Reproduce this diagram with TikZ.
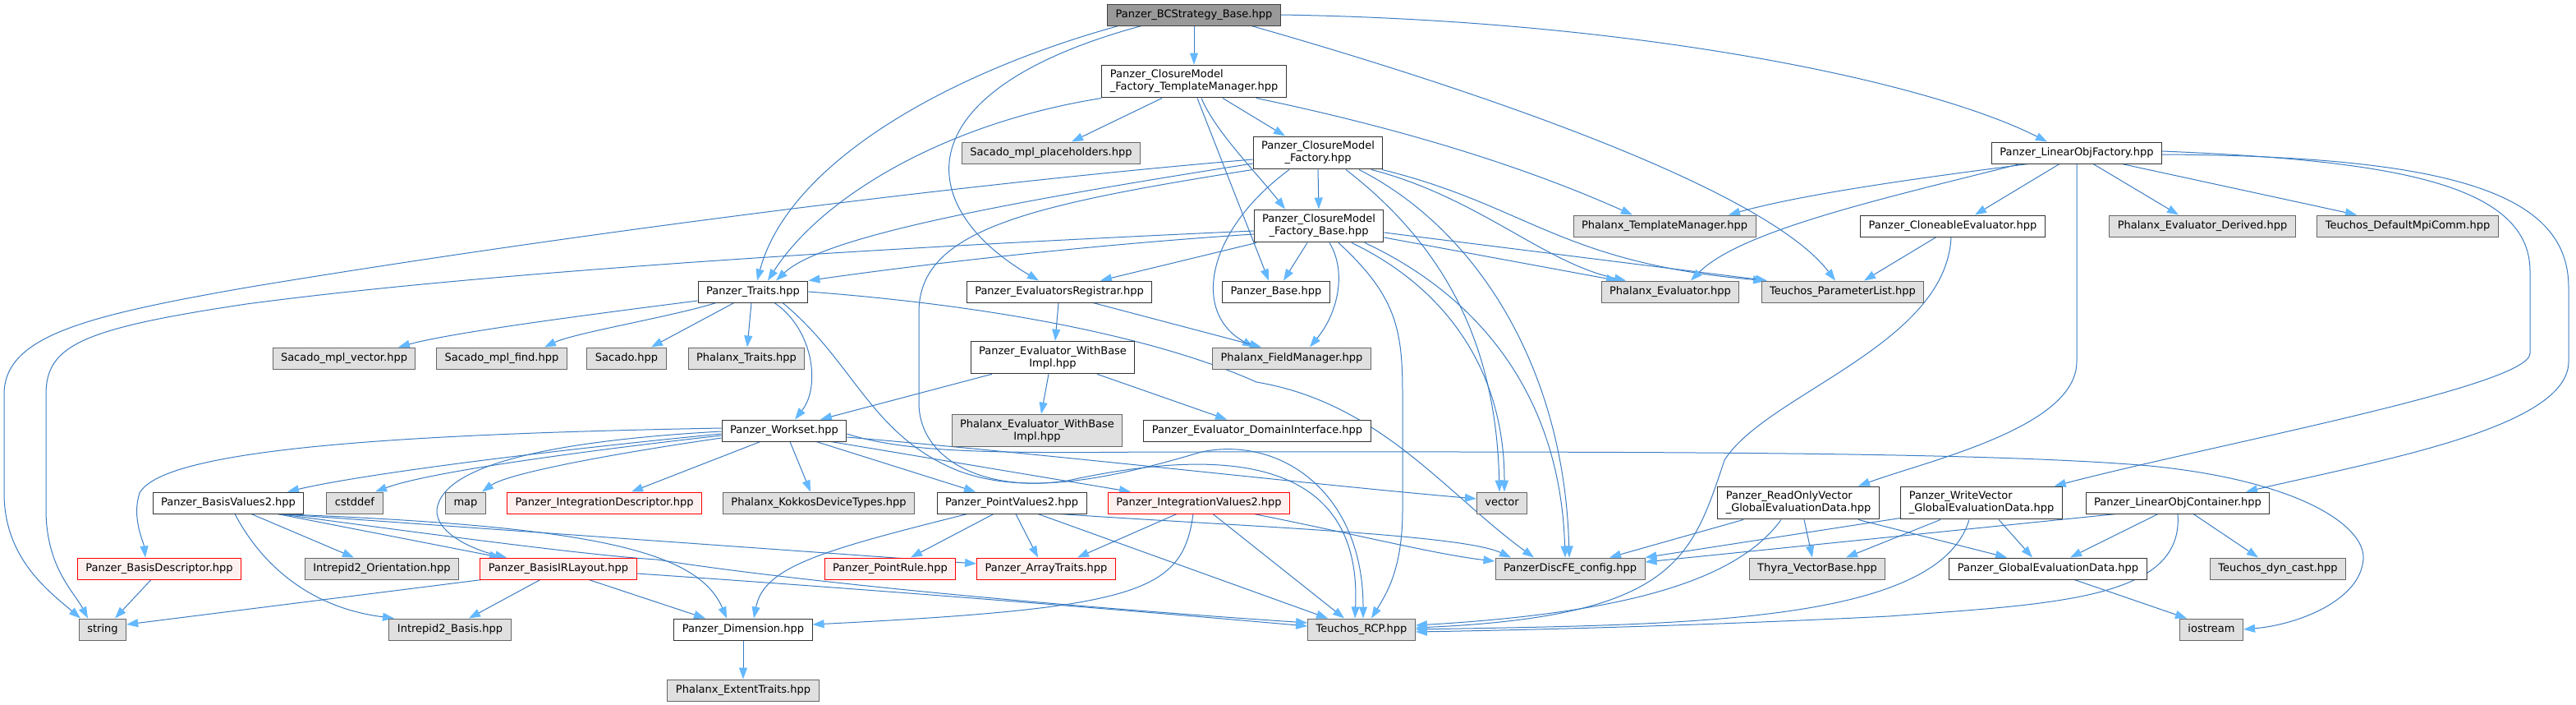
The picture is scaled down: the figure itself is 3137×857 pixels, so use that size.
\documentclass[tikz,border=0pt]{standalone}
\usepackage{fontspec}
\setmainfont{DejaVu Sans}
\usetikzlibrary{arrows.meta}
\definecolor{edgeblue}{RGB}{60,125,195}
\definecolor{arrowfill}{RGB}{99,184,255}
\definecolor{nodeborder}{RGB}{51,51,51}
\definecolor{extfill}{RGB}{224,224,224}
\definecolor{extborder}{RGB}{102,102,102}
\definecolor{truncfill}{RGB}{255,240,240}
\definecolor{rootfill}{RGB}{153,153,153}
\definecolor{rootborder}{RGB}{64,64,64}
\newcommand{\nodefont}{\fontsize{13pt}{15pt}\selectfont}
\pgfdeclarelayer{edgelayer}
\pgfsetlayers{edgelayer,main}
\tikzset{
  nd/.style={draw=nodeborder, fill=white, line width=1pt, font=\nodefont, inner xsep=10pt, inner ysep=6pt, minimum height=26pt, text=black},
  one/.style={text height=10pt, text depth=3.2pt},
  wn/.style={nd, one},
  gn/.style={nd, one, draw=extborder, fill=extfill},
  rn/.style={nd, one, draw=red, fill=truncfill},
  rootn/.style={nd, one, draw=rootborder, fill=rootfill},
  wtwo/.style={nd},
  gtwo/.style={nd, draw=extborder, fill=extfill},
  e/.style={draw=edgeblue, line width=1pt, -{Triangle[length=14pt,width=10pt,color=arrowfill]}},
}
\begin{document}
\begin{tikzpicture}[x=1pt,y=-1pt]
\useasboundingbox (0,0) rectangle (3137,857);
% nodes
\node[rootn] (R) at (1454,18) {Panzer\_BCStrategy\_Base.hpp};
\node[wtwo, align=left] (TM) at (1454,99) {Panzer\_ClosureModel\\\_Factory\_TemplateManager.hpp};
\node[gn] (placeholders) at (1280,186) {Sacado\_mpl\_placeholders.hpp};
\node[wtwo, align=center] (F) at (1605,186) {Panzer\_ClosureModel\\\_Factory.hpp};
\node[wn] (LOF) at (2529,186) {Panzer\_LinearObjFactory.hpp};
\node[wtwo, align=center] (FB) at (1606,275) {Panzer\_ClosureModel\\\_Factory\_Base.hpp};
\node[gn] (PhxTM) at (2027,275) {Phalanx\_TemplateManager.hpp};
\node[wn] (Clone) at (2378,275) {Panzer\_CloneableEvaluator.hpp};
\node[gn] (EvDer) at (2682,275) {Phalanx\_Evaluator\_Derived.hpp};
\node[gn] (Mpi) at (2932,275) {Teuchos\_DefaultMpiComm.hpp};
\node[wn] (Traits) at (917,355) {Panzer\_Traits.hpp};
\node[wn] (EvalReg) at (1290,355) {Panzer\_EvaluatorsRegistrar.hpp};
\node[wn] (PBase) at (1554,355) {Panzer\_Base.hpp};
\node[gn] (PhxEval) at (2034,355) {Phalanx\_Evaluator.hpp};
\node[gn] (PList) at (2244,355) {Teuchos\_ParameterList.hpp};
\node[gn] (SVec) at (419,436) {Sacado\_mpl\_vector.hpp};
\node[gn] (SFind) at (611,436) {Sacado\_mpl\_find.hpp};
\node[gn] (Sac) at (763,436) {Sacado.hpp};
\node[gn] (PhxTraits) at (909,436) {Phalanx\_Traits.hpp};
\node[wtwo, align=center] (WBI) at (1282,435) {Panzer\_Evaluator\_WithBase\\Impl.hpp};
\node[gn] (FM) at (1573,436) {Phalanx\_FieldManager.hpp};
\node[wn] (WS) at (955,524) {Panzer\_Workset.hpp};
\node[gtwo, align=center] (PWBI) at (1263,524) {Phalanx\_Evaluator\_WithBase\\Impl.hpp};
\node[wn] (DI) at (1531,524) {Panzer\_Evaluator\_DomainInterface.hpp};
\node[wn] (BV2) at (278,612) {Panzer\_BasisValues2.hpp};
\node[gn] (cstddef) at (432,612) {cstddef};
\node[gn] (map) at (567,612) {map};
\node[rn] (IDesc) at (736,612) {Panzer\_IntegrationDescriptor.hpp};
\node[gn] (Kokkos) at (997,612) {Phalanx\_KokkosDeviceTypes.hpp};
\node[wn] (PV2) at (1232,612) {Panzer\_PointValues2.hpp};
\node[rn] (IV2) at (1460,612) {Panzer\_IntegrationValues2.hpp};
\node[gn] (vector) at (1829,612) {vector};
\node[wtwo, align=left] (ROV) at (2190,612) {Panzer\_ReadOnlyVector\\\_GlobalEvaluationData.hpp};
\node[wtwo, align=left] (WV) at (2413,612) {Panzer\_WriteVector\\\_GlobalEvaluationData.hpp};
\node[wn] (LOC) at (2652,612) {Panzer\_LinearObjContainer.hpp};
\node[rn] (BDesc) at (194,692) {Panzer\_BasisDescriptor.hpp};
\node[gn] (Orient) at (465,692) {Intrepid2\_Orientation.hpp};
\node[rn] (BIRL) at (680,692) {Panzer\_BasisIRLayout.hpp};
\node[rn] (PRule) at (1084,692) {Panzer\_PointRule.hpp};
\node[rn] (ATr) at (1274,692) {Panzer\_ArrayTraits.hpp};
\node[gn] (DiscFE) at (1912,692) {PanzerDiscFE\_config.hpp};
\node[gn] (Thyra) at (2213,692) {Thyra\_VectorBase.hpp};
\node[wn] (GED) at (2494,692) {Panzer\_GlobalEvaluationData.hpp};
\node[gn] (dyn) at (2774,692) {Teuchos\_dyn\_cast.hpp};
\node[gn] (string) at (125,766) {string};
\node[gn] (IBasis) at (548,766) {Intrepid2\_Basis.hpp};
\node[wn] (Dim) at (905,766) {Panzer\_Dimension.hpp};
\node[gn] (RCP) at (1658,766) {Teuchos\_RCP.hpp};
\node[gn] (iostream) at (2693,766) {iostream};
\node[gn] (Extent) at (905,840) {Phalanx\_ExtentTraits.hpp};

\begin{pgfonlayer}{edgelayer}
\fill[white] (0,0) rectangle (3137,857);
% root
\draw[e] (R.south) -- (TM.north);
\draw[e] ([xshift=-92pt]R.south) .. controls (1150,90) and (960,200) .. ([xshift=5pt]Traits.north);
\draw[e] ([xshift=-64pt]R.south) .. controls (1100,110) and (1110,250) .. ([xshift=-25pt]EvalReg.north);
\draw[e] ([xshift=70pt]R.south) .. controls (1800,110) and (2150,230) .. ([xshift=-9pt]PList.north);
\draw[e] (R.east) .. controls (2000,25) and (2350,100) .. ([xshift=-36pt]LOF.north);
% template manager
\draw[e] (TM.south west) .. controls (1150,150) and (1000,240) .. ([xshift=18pt]Traits.north);
\draw[e] ([xshift=-39pt]TM.south) -- ([xshift=25pt]placeholders.north);
\draw[e] ([xshift=35pt]TM.south) -- ([xshift=-40pt]F.north);
\draw[e] ([xshift=9pt]TM.south) .. controls (1480,160) and (1530,210) .. ([xshift=-41pt]FB.north);
\draw[e] ([xshift=4pt]TM.south) -- ([xshift=-9pt]PBase.north);
\draw[e] ([xshift=76pt]TM.south) .. controls (1700,155) and (1850,200) .. ([xshift=-39pt]PhxTM.north);
% factory
\draw[e] (F.south) -- (FB.north);
\draw[e] ([yshift=-13pt]F.west) .. controls (1200,250) and (1000,290) .. ([xshift=28pt]Traits.north);
\draw[e] ([yshift=-8pt]F.west) .. controls (1100,230) and (600,300) .. (300,350) .. controls (100,385) and (5,410) .. (5,480) -- (5,600) .. controls (5,680) and (60,720) .. ([xshift=-27pt]string.north);
\draw[e] (F.south west) .. controls (1250,250) and (1119,280) .. (1119,380) -- (1119,490) .. controls (1119,560) and (1200,600) .. (1300,585) .. controls (1460,550) and (1660,540) .. ([xshift=-8pt]RCP.north);
\draw[e] ([xshift=-35pt]F.south) .. controls (1470,280) and (1450,380) .. ([xshift=-46pt]FM.north);
\draw[e] ([xshift=34pt]F.south) .. controls (1760,300) and (1822,420) .. ([xshift=-3pt]vector.north);
\draw[e] ([xshift=50pt]F.south) .. controls (1800,280) and (1905,450) .. ([xshift=-1pt]DiscFE.north);
\draw[e] ([xshift=65pt]F.south) .. controls (1800,240) and (1880,320) .. ([xshift=-54pt]PhxEval.north);
\draw[e] ([xshift=78pt]F.south) .. controls (1860,250) and (1900,320) .. ([xshift=-95pt]PList.north);
% factory base
\draw[e] ([xshift=-14pt]FB.south) -- ([xshift=9pt]PBase.north);
\draw[e] ([xshift=13pt]FB.south) .. controls (1640,330) and (1630,380) .. ([xshift=22pt]FM.north);
\draw[e] ([xshift=24pt]FB.south) .. controls (1700,360) and (1708,400) .. (1708,480) -- (1708,620) .. controls (1708,690) and (1690,720) .. ([xshift=12pt]RCP.north);
\draw[e] ([xshift=40pt]FB.south) .. controls (1760,350) and (1832,450) .. ([xshift=3pt]vector.north);
\draw[e] ([xshift=56pt]FB.south) .. controls (1800,360) and (1900,480) .. ([xshift=-6pt]DiscFE.north);
\draw[e] ([yshift=-14pt]FB.east) -- ([xshift=-64pt]PhxEval.north);
\draw[e] ([yshift=-8pt]FB.east) -- ([xshift=-92pt]PList.north);
\draw[e] ([xshift=-76pt]FB.south) -- ([xshift=50pt]EvalReg.north);
\draw[e] ([yshift=-10pt]FB.west) .. controls (1300,300) and (1100,325) .. (Traits.north east);
\draw[e] ([yshift=-6pt]FB.west) .. controls (1100,300) and (600,330) .. (300,370) .. controls (100,400) and (56,420) .. (56,480) -- (56,620) .. controls (56,690) and (90,720) .. ([xshift=-18pt]string.north);
% traits
\draw[e] ([yshift=-11pt]Traits.west) .. controls (700,385) and (550,405) .. ([xshift=66pt]SVec.north);
\draw[e] ([xshift=-45pt]Traits.south) .. controls (820,385) and (700,405) .. ([xshift=52pt]SFind.north);
\draw[e] ([xshift=-23pt]Traits.south) -- ([xshift=30pt]Sac.north);
\draw[e] ([xshift=-2pt]Traits.south) -- ([xshift=1pt]PhxTraits.north);
\draw[e] ([xshift=26pt]Traits.south) .. controls (990,400) and (1000,470) .. ([xshift=13pt]WS.north);
\draw[e] ([xshift=36pt]Traits.south) .. controls (1040,440) and (1060,530) .. (1167,573) .. controls (1240,600) and (1330,590) .. (1463,550) .. controls (1560,530) and (1660,600) .. ([xshift=2pt]RCP.north);
\draw[e] (Traits.east) .. controls (1250,375) and (1430,420) .. (1530,465) .. controls (1680,490) and (1760,600) .. ([xshift=-44pt]DiscFE.north);
% evaluators registrar
\draw[e] ([xshift=-1pt]EvalReg.south) -- ([xshift=3pt]WBI.north);
\draw[e] ([xshift=41pt]EvalReg.south) -- ([xshift=-37pt]FM.north);
% with base impl
\draw[e] ([xshift=-74pt]WBI.south) -- ([xshift=44pt]WS.north);
\draw[e] ([xshift=-5pt]WBI.south) -- ([xshift=5pt]PWBI.north);
\draw[e] ([xshift=54pt]WBI.south) -- ([xshift=-37pt]DI.north);
% workset
\draw[e] ([yshift=3pt]WS.west) .. controls (500,528) and (200,545) .. (170,600) .. controls (160,630) and (175,660) .. ([xshift=-17pt]BDesc.north);
\draw[e] ([yshift=-4pt]WS.west) .. controls (700,545) and (450,575) .. ([xshift=72pt]BV2.north);
\draw[e] ([yshift=-6pt]WS.west) .. controls (700,550) and (520,575) .. ([xshift=25pt]cstddef.north);
\draw[e] ([yshift=-9pt]WS.west) .. controls (760,550) and (620,575) .. ([xshift=20pt]map.north);
\draw[e] ([yshift=-1pt]WS.west) .. controls (700,535) and (540,560) .. (532,620) .. controls (530,650) and (580,670) .. ([xshift=-63pt]BIRL.north);
\draw[e] ([xshift=-29pt]WS.south) -- ([xshift=33pt]IDesc.north);
\draw[e] ([xshift=7pt]WS.south) -- ([xshift=-10pt]Kokkos.north);
\draw[e] ([xshift=39pt]WS.south) -- ([xshift=-44pt]PV2.north);
\draw[e] ([xshift=57pt]WS.south) -- ([xshift=-83pt]IV2.north);
\draw[e] ([yshift=-8pt]WS.east) .. controls (1300,555) and (1600,590) .. ([yshift=5pt]vector.west);
\draw[e] ([yshift=-4pt]WS.east) .. controls (1100,550) and (1200,552) .. (1400,550) .. controls (1900,550) and (2400,548) .. (2618,567) .. controls (2800,585) and (2880,640) .. (2878,680) .. controls (2875,730) and (2800,760) .. (iostream.east);
% basis values
\draw[e] ([xshift=60pt]BV2.south) -- ([xshift=-70pt]BIRL.north);
\draw[e] ([xshift=28pt]BV2.south) -- ([xshift=-34pt]Orient.north);
\draw[e] ([xshift=8pt]BV2.south) .. controls (320,690) and (380,740) .. ([xshift=-68pt]IBasis.north);
\draw[e] ([xshift=60pt]BV2.south) .. controls (720,640) and (850,670) .. ([xshift=-20pt]Dim.north);
\draw[e] ([xshift=62pt]BV2.south) -- ([yshift=6pt]ATr.west);
\draw[e] ([xshift=62pt]BV2.south) .. controls (560,655) and (720,676) .. (800,681) .. controls (950,705) and (1250,735) .. ([yshift=8pt]RCP.west);
% basis IR layout
\draw[e] ([xshift=-93pt]BIRL.south) -- ([yshift=6pt]string.east);
\draw[e] ([xshift=-22pt]BIRL.south) -- ([xshift=23pt]IBasis.north);
\draw[e] ([xshift=37pt]BIRL.south) -- ([xshift=-46pt]Dim.north);
\draw[e] ([yshift=-6pt]BIRL.east) .. controls (1100,720) and (1400,745) .. ([yshift=4pt]RCP.west);
% point values
\draw[e] ([xshift=-54pt]PV2.south) .. controls (1000,670) and (930,690) .. ([xshift=13pt]Dim.north);
\draw[e] ([xshift=-22pt]PV2.south) -- ([xshift=25pt]PRule.north);
\draw[e] ([xshift=5pt]PV2.south) -- ([xshift=-10pt]ATr.north);
\draw[e] ([xshift=32pt]PV2.south) -- ([xshift=-41pt]RCP.north);
\draw[e] ([xshift=58pt]PV2.south) .. controls (1500,640) and (1780,650) .. ([xshift=-72pt]DiscFE.north);
% integration values
\draw[e] ([xshift=-27pt]IV2.south) -- ([xshift=38pt]ATr.north);
\draw[e] ([xshift=-7pt]IV2.south) .. controls (1440,720) and (1390,740) .. ([yshift=6pt]Dim.east);
\draw[e] ([xshift=17pt]IV2.south) -- ([xshift=-21pt]RCP.north);
\draw[e] ([xshift=67pt]IV2.south) .. controls (1650,650) and (1750,675) .. ([yshift=9pt]DiscFE.west);
% misc
\draw[e] (Dim.south) -- (Extent.north);
\draw[e] ([xshift=-10pt]BDesc.south) -- ([xshift=15pt]string.north);
% linear obj factory
\draw[e] ([xshift=-59pt]LOF.south) .. controls (2350,215) and (2200,235) .. ([xshift=78pt]PhxTM.north);
\draw[e] ([xshift=-69pt]LOF.south) .. controls (2300,240) and (2120,280) .. ([xshift=25pt]PhxEval.north);
\draw[e] ([xshift=-21pt]LOF.south) -- ([xshift=27pt]Clone.north);
\draw[e] ([xshift=20pt]LOF.south) -- ([xshift=-29pt]EvDer.north);
\draw[e] ([xshift=55pt]LOF.south) -- ([xshift=-62pt]Mpi.north);
\draw[e] (LOF.south) -- (2529,440) .. controls (2529,520) and (2350,560) .. ([xshift=73pt]ROV.north);
\draw[e] ([yshift=2pt]LOF.east) .. controls (2900,195) and (3081,220) .. (3081,330) -- (3081,430) .. controls (3081,470) and (2700,540) .. ([xshift=-10pt]WV.north east);
\draw[e] ([yshift=-2pt]LOF.east) .. controls (3000,190) and (3128,240) .. (3128,350) -- (3128,440) .. controls (3128,520) and (2900,560) .. ([xshift=83pt]LOC.north);
% cloneable evaluator
\draw[e] ([xshift=-20pt]Clone.south) -- ([xshift=26pt]PList.north);
\draw[e] ([xshift=-2pt]Clone.south) .. controls (2370,420) and (2150,480) .. (2100,560) .. controls (2060,680) and (2040,750) .. ([yshift=2pt]RCP.east);
% read only vector
\draw[e] ([xshift=-67pt]ROV.south) -- ([xshift=48pt]DiscFE.north);
\draw[e] ([xshift=-21pt]ROV.south) .. controls (2120,700) and (2000,745) .. ([yshift=5pt]RCP.east);
\draw[e] ([xshift=7pt]ROV.south) -- ([xshift=-6pt]Thyra.north);
\draw[e] ([xshift=73pt]ROV.south) -- ([xshift=-50pt]GED.north);
% write vector
\draw[e] ([yshift=2pt]WV.south west) -- (DiscFE.north east);
\draw[e] ([xshift=-15pt]WV.south) .. controls (2360,760) and (2050,760) .. (RCP.east);
\draw[e] ([xshift=-50pt]WV.south) -- ([xshift=35pt]Thyra.north);
\draw[e] ([xshift=21pt]WV.south) -- ([xshift=-19pt]GED.north);
% linear obj container
\draw[e] ([xshift=-75pt]LOC.south) -- ([yshift=8pt]DiscFE.east);
\draw[e] ([xshift=-24pt]LOC.south) -- ([xshift=27pt]GED.north);
\draw[e] (LOC.south) .. controls (2660,730) and (2500,735) .. (2300,750) .. controls (2100,760) and (1900,766) .. ([yshift=-3pt]RCP.east);
\draw[e] ([xshift=19pt]LOC.south) -- ([xshift=-24pt]dyn.north);
% global evaluation data
\draw[e] ([xshift=32pt]GED.south) -- ([xshift=-30pt]iostream.north);
\end{pgfonlayer}
\end{tikzpicture}
\end{document}
